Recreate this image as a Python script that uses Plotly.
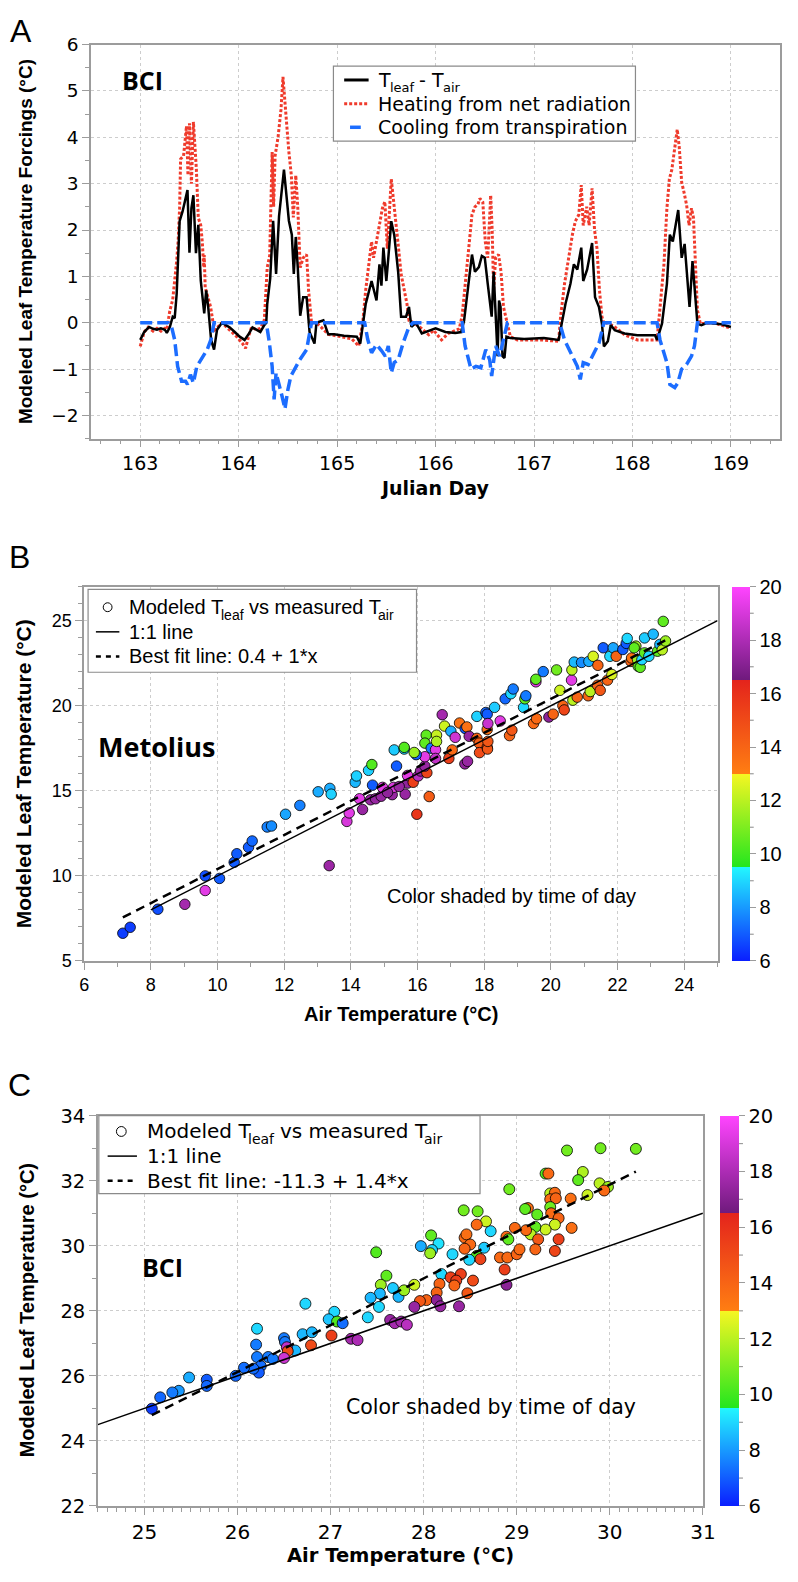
import plotly.graph_objects as go

W, H = 798, 1582
FONT = "Liberation Sans, Arial, Helvetica, sans-serif"
WIDEFONT = "DejaVu Sans, Verdana, sans-serif"
BOLDFONT = "Open Sans, Liberation Sans, sans-serif"
GRAY = "#9c9c9c"
RED = "#ef3b2c"
BLUE = "#1c6dff"

# ---------------- Panel A : leaf temperature forcings (BCI) ----------------
black_day = [163.00, 163.04, 163.09, 163.13, 163.17, 163.21, 163.25, 163.27, 163.30, 163.33,
             163.35, 163.37, 163.40, 163.43, 163.48, 163.50, 163.52, 163.54, 163.566, 163.59,
             163.615, 163.63, 163.65, 163.67, 163.69, 163.72, 163.75, 163.78, 163.83, 163.87,
             163.91, 163.96, 164.01, 164.06, 164.10, 164.14, 164.18, 164.22, 164.26, 164.28,
             164.29, 164.32, 164.35, 164.38, 164.41, 164.46, 164.51, 164.54, 164.56, 164.58,
             164.60, 164.625, 164.655, 164.69, 164.72, 164.77, 164.79, 164.86, 164.91, 164.97,
             165.07, 165.20, 165.235, 165.29, 165.35, 165.40, 165.43, 165.45, 165.47, 165.50,
             165.52, 165.55, 165.58, 165.62, 165.65, 165.70, 165.73, 165.755, 165.80, 165.86,
             166.00, 166.10, 166.20, 166.26, 166.29, 166.33, 166.37, 166.40, 166.44, 166.47,
             166.50, 166.53, 166.56, 166.57, 166.59, 166.63, 166.645, 166.66, 166.68, 166.70,
             166.72, 166.76, 166.90, 167.10, 167.25, 167.27, 167.32, 167.37, 167.405, 167.44,
             167.48, 167.50, 167.54, 167.59, 167.62, 167.66, 167.69, 167.71, 167.75, 167.78,
             167.82, 167.92, 168.05, 168.23, 168.25, 168.30, 168.35, 168.38, 168.41, 168.465,
             168.50, 168.53, 168.58, 168.61, 168.63, 168.66, 168.70, 168.76, 168.90, 169.00]
black_val = [-0.37, -0.20, -0.09, -0.13, -0.15, -0.12, -0.15, -0.22, -0.10, 0.13,
             0.10, 0.62, 2.19, 2.40, 2.86, 1.51, 2.47, 2.75, 1.50, 2.11,
             0.91, 0.60, 0.20, 0.70, 0.35, -0.37, -0.58, -0.15, 0.00, -0.05,
             -0.10, -0.20, -0.30, -0.37, -0.25, -0.10, -0.15, -0.20, -0.05, 0.00,
             0.40, 0.95, 2.20, 1.05, 2.30, 3.30, 2.20, 1.90, 1.05, 1.85,
             1.20, 0.15, 0.55, 0.55, -0.20, -0.45, 0.00, 0.05, -0.25, -0.25,
             -0.28, -0.30, -0.45, 0.40, 0.90, 0.48, 1.26, 0.80, 1.62, 0.90,
             1.40, 2.19, 1.90, 1.10, 0.13, 0.13, 0.34, -0.09, 0.00, -0.23,
             -0.12, -0.20, -0.22, -0.20, 0.05, 0.70, 1.47, 1.10, 1.20, 1.44,
             1.40, 0.84, 0.34, 0.13, 1.10, -0.72, 0.48, 0.34, -0.72, -0.76,
             -0.30, -0.33, -0.35, -0.33, -0.37, -0.16, 0.41, 0.84, 1.26, 1.15,
             1.62, 0.90, 1.15, 1.72, 0.55, 0.34, -0.02, -0.51, -0.40, -0.05,
             -0.16, -0.23, -0.27, -0.27, -0.37, -0.02, 0.84, 1.90, 1.75, 2.43,
             1.40, 1.70, 0.34, 1.33, 0.70, -0.02, -0.05, 0.00, -0.03, -0.09]

red_day = [163.00, 163.04, 163.08, 163.13, 163.17, 163.21, 163.25, 163.27, 163.30, 163.33,
           163.37, 163.385, 163.40, 163.41, 163.44, 163.47, 163.485, 163.50, 163.52, 163.54,
           163.57, 163.59, 163.615, 163.63, 163.645, 163.65, 163.66, 163.715, 163.74, 163.76,
           163.83, 163.91, 163.98, 164.04, 164.07, 164.10, 164.13, 164.18, 164.22, 164.26,
           164.29, 164.315, 164.34, 164.355, 164.37, 164.40, 164.43, 164.45, 164.47, 164.49,
           164.51, 164.535, 164.555, 164.58, 164.60, 164.625, 164.655, 164.69, 164.71, 164.74,
           164.79, 164.84, 164.91, 165.04, 165.15, 165.22, 165.26, 165.29, 165.32, 165.35,
           165.37, 165.40, 165.43, 165.46, 165.485, 165.51, 165.55, 165.565, 165.59, 165.62,
           165.65, 165.68, 165.71, 165.73, 165.78, 165.86, 165.93, 165.98, 166.06, 166.13,
           166.24, 166.27, 166.31, 166.35, 166.37, 166.40, 166.43, 166.45, 166.48, 166.505,
           166.53, 166.56, 166.575, 166.59, 166.61, 166.64, 166.665, 166.69, 166.73, 166.76,
           166.83, 167.07, 167.25, 167.27, 167.31, 167.35, 167.39, 167.42, 167.455, 167.48,
           167.50, 167.535, 167.56, 167.59, 167.615, 167.64, 167.665, 167.69, 167.71, 167.75,
           167.82, 167.92, 168.05, 168.25, 168.28, 168.32, 168.35, 168.375, 168.40, 168.43,
           168.455, 168.475, 168.50, 168.525, 168.55, 168.575, 168.60, 168.62, 168.64, 168.66,
           168.69, 168.83, 169.00]
red_val = [-0.51, -0.20, -0.10, -0.18, -0.12, -0.18, -0.12, -0.15, 0.25, 0.50,
           1.33, 1.75, 2.47, 3.53, 3.60, 4.24, 3.18, 4.30, 3.00, 4.33,
           3.32, 2.26, 2.10, 1.75, 1.20, 1.46, 0.76, 0.34, 0.00, -0.15,
           0.00, -0.15, -0.30, -0.45, -0.55, -0.30, -0.10, -0.15, -0.12, 0.05,
           1.19, 1.45, 3.68, 2.50, 3.60, 4.00, 4.60, 5.30, 4.75, 4.03,
           3.68, 3.18, 2.27, 3.18, 2.50, 1.19, 1.40, 1.47, 0.70, 0.00,
           0.00, -0.10, -0.25, -0.30, -0.35, -0.50, 0.00, 0.70, 1.19, 1.75,
           1.40, 1.75, 2.19, 2.47, 2.61, 1.60, 3.10, 2.80, 2.40, 1.69,
           1.05, 0.70, 0.40, 0.05, 0.00, -0.13, -0.26, -0.16, -0.37, -0.23,
           -0.13, 0.15, 1.05, 1.83, 2.33, 2.50, 2.55, 2.68, 2.60, 1.75,
           1.40, 2.75, 2.00, 0.70, 1.40, 1.47, 1.10, 0.34, -0.02, -0.30,
           -0.37, -0.37, -0.40, 0.13, 0.84, 1.40, 1.90, 2.19, 2.33, 2.97,
           2.10, 2.50, 2.10, 2.90, 2.00, 1.60, 0.70, 0.13, -0.02, 0.00,
           -0.09, -0.26, -0.37, -0.37, 0.27, 1.26, 2.47, 3.10, 3.30, 3.74,
           4.17, 3.80, 3.03, 2.80, 2.54, 2.10, 2.47, 2.26, 1.10, 0.27,
           -0.02, 0.00, -0.12]

blue_day = [163.00, 163.285, 163.32, 163.35, 163.38, 163.42, 163.46, 163.48, 163.51, 163.54,
            163.575, 163.615, 163.68, 163.72, 163.75, 164.28, 164.31, 164.34, 164.36, 164.38,
            164.41, 164.44, 164.47, 164.50, 164.53, 164.58, 164.62, 164.69, 164.74, 165.28,
            165.31, 165.35, 165.40, 165.45, 165.49, 165.52, 165.55, 165.58, 165.62, 165.67,
            165.73, 165.77, 166.27, 166.30, 166.36, 166.41, 166.46, 166.51, 166.55, 166.57,
            166.61, 166.65, 166.68, 166.73, 167.26, 167.31, 167.39, 167.44, 167.47, 167.50,
            167.55, 167.61, 167.66, 167.71, 168.25, 168.28, 168.35, 168.38, 168.43, 168.46,
            168.50, 168.55, 168.60, 168.63, 168.66, 169.00]
blue_val = [0.00, 0.00, -0.10, -0.37, -0.94, -1.26, -1.26, -1.33, -1.12, -1.30,
            -0.94, -0.80, -0.58, -0.35, 0.00, 0.00, -0.40, -0.94, -1.65, -1.08,
            -1.37, -1.58, -1.86, -1.44, -1.15, -0.94, -0.80, -0.58, 0.00, 0.00,
            -0.35, -0.65, -0.47, -0.60, -0.72, -0.50, -1.08, -0.86, -0.80, -0.44,
            -0.09, 0.00, 0.00, -0.50, -1.00, -0.94, -0.97, -0.58, -0.80, -1.15,
            -0.50, -0.72, -0.44, 0.00, 0.00, -0.37, -0.72, -0.94, -1.22, -0.86,
            -0.90, -0.65, -0.44, 0.00, 0.00, -0.37, -0.86, -1.33, -1.40, -1.30,
            -1.00, -0.90, -0.72, -0.50, 0.00, 0.00]

# ---------------- Panel B : Metolius ----------------
met_air = [7.16, 7.38, 8.21, 9.02, 9.63, 9.63, 10.06, 10.50, 10.58, 10.93,
           11.04, 11.49, 11.62, 12.04, 12.47, 13.02, 13.37, 13.41, 13.35, 13.88,
           13.95, 14.26, 14.35, 14.59, 14.65, 14.74, 14.91, 14.95, 15.24, 15.28,
           15.37, 15.30, 15.60, 15.60, 15.63, 15.70, 15.70, 15.87, 15.98, 16.35,
           16.02, 16.09, 16.28, 16.22, 16.22, 15.96, 15.90, 14.13, 14.17, 14.53,
           14.63, 16.26, 16.22, 16.41, 16.54, 16.54, 16.57, 16.57, 16.74, 16.81,
           16.94, 17.04, 17.00, 17.13, 17.26, 17.43, 17.48, 17.55, 17.42, 17.50,
           17.78, 17.78, 17.85, 17.86, 18.05, 18.09, 18.09, 18.09, 18.10, 18.11,
           18.11, 18.31, 18.48, 18.63, 18.76, 18.80, 18.83, 18.87, 19.18, 19.22,
           19.25, 19.48, 19.55, 19.55, 19.57, 19.77, 19.94, 20.07, 20.17, 20.27,
           20.36, 20.40, 20.62, 20.63, 20.66, 20.70, 20.79, 20.92, 21.12, 21.14,
           21.18, 21.27, 21.40, 21.41, 21.48, 21.57, 21.70, 21.77, 21.83, 21.87,
           21.96, 22.16, 22.26, 22.29, 22.40, 22.42, 22.55, 22.50, 22.60, 22.62,
           22.68, 22.73, 22.81, 22.81, 22.94, 23.07, 23.20, 23.27, 23.34, 23.44,
           23.37, 15.45, 15.10]
met_leaf = [6.63, 6.98, 8.04, 8.33, 9.14, 10.00, 9.85, 10.80, 11.30, 11.68,
            12.05, 12.87, 12.93, 13.62, 14.14, 14.94, 15.14, 14.80, 10.60, 13.20,
            13.70, 14.53, 13.90, 14.47, 15.33, 14.53, 14.68, 15.20, 14.77, 15.20,
            16.45, 17.40, 17.45, 17.55, 14.80, 15.45, 15.90, 15.50, 13.62, 14.66,
            15.87, 16.16, 16.06, 16.45, 17.00, 17.12, 17.25, 15.50, 15.87, 16.20,
            16.54, 18.27, 17.80, 17.50, 17.41, 16.90, 18.27, 17.90, 19.47, 18.80,
            16.90, 17.40, 18.50, 18.14, 18.98, 18.66, 18.75, 18.20, 16.58, 16.73,
            19.37, 18.08, 17.80, 17.24, 19.60, 19.50, 18.60, 17.56, 17.45, 17.90,
            18.95, 19.90, 19.10, 20.40, 18.24, 20.70, 18.56, 20.98, 19.90, 20.40,
            20.58, 18.95, 21.40, 21.55, 19.23, 22.00, 19.33, 19.50, 22.10, 20.90,
            20.00, 19.75, 21.50, 22.10, 20.32, 22.56, 20.50, 22.54, 20.58, 22.60,
            20.83, 22.90, 21.20, 22.37, 20.90, 23.40, 21.50, 22.90, 21.83, 23.40,
            22.90, 23.30, 23.66, 23.95, 22.60, 22.80, 23.50, 23.40, 22.70, 22.31,
            22.25, 22.70, 23.10, 23.98, 22.90, 24.20, 23.20, 23.60, 23.28, 23.80,
            24.95, 15.25, 14.90]
met_hour = [6.5, 6.5, 6.8, 17.8, 19.3, 6.8, 7.0, 7.0, 7.0, 7.0,
            7.2, 7.6, 7.8, 8.2, 7.6, 8.3, 8.3, 8.9, 17.6, 19.0,
            19.3, 19.3, 17.5, 17.5, 7.0, 17.5, 17.5, 19.3, 17.5, 19.0,
            7.0, 8.8, 9.0, 10.3, 17.5, 17.3, 19.3, 15.5, 15.8, 14.3,
            18.3, 17.5, 15.3, 17.5, 19.3, 7.0, 11.5, 8.5, 8.9, 8.9,
            10.3, 10.5, 10.5, 7.5, 19.3, 18.5, 12.2, 11.8, 17.8, 12.3,
            15.5, 13.8, 8.3, 18.8, 13.5, 7.0, 13.5, 17.5, 17.3, 17.5,
            8.9, 14.0, 14.3, 15.0, 7.2, 7.0, 13.5, 15.3, 14.5, 14.5,
            18.7, 8.8, 19.3, 7.2, 14.0, 9.0, 14.5, 7.5, 9.0, 10.5,
            7.5, 13.8, 19.3, 10.5, 13.8, 7.5, 17.2, 14.0, 10.8, 12.3,
            14.0, 15.2, 19.3, 12.0, 12.0, 8.5, 14.0, 7.8, 14.0, 8.3,
            12.0, 12.5, 14.0, 14.0, 14.5, 7.0, 14.0, 9.0, 12.5, 8.2,
            14.0, 7.0, 7.0, 9.0, 14.0, 13.5, 11.5, 10.5, 11.5, 10.5,
            10.5, 9.0, 10.5, 8.8, 9.0, 8.5, 10.5, 8.5, 12.0, 11.5,
            10.5, 17.5, 17.3]
met_fit_intercept = 0.4
met_fit_slope = 1.0
met_one_to_one = [8, 25]

# ---------------- Panel C : BCI ----------------
bci_air = [29.54, 29.90, 30.28, 29.31, 29.34, 29.71, 29.66, 29.89, 29.98, 29.94,
           29.76, 29.58, 28.92, 29.36, 29.41, 29.36, 29.42, 29.12, 29.09, 29.22,
           29.36, 29.37, 29.45, 29.41, 29.31, 29.20, 29.15, 29.10, 29.59, 29.45,
           29.23, 29.20, 29.41, 28.98, 28.89, 28.91, 28.72, 28.67, 28.58, 28.43,
           28.57, 28.44, 28.46, 28.50, 28.44, 28.65, 28.57, 28.61, 28.49, 28.82,
           28.90, 29.00, 29.03, 28.87, 28.89, 28.08, 27.97, 28.16, 28.09, 28.07,
           28.31, 27.49, 27.60, 27.54, 27.67, 27.53, 27.43, 27.52, 27.40, 27.04,
           26.98, 27.07, 27.13, 27.73, 27.79, 27.90, 28.19, 28.29, 28.40, 28.35,
           28.53, 28.17, 28.33, 28.14, 28.47, 28.03, 27.96, 28.14, 28.18, 28.38,
           27.90, 27.64, 27.69, 27.76, 27.82, 27.01, 26.79, 27.22, 27.29, 26.73,
           26.70, 26.80, 26.62, 26.50, 26.51, 26.53, 26.54, 26.50, 26.21, 26.20,
           26.21, 26.33, 26.38, 26.25, 26.23, 26.17, 26.07, 25.98, 25.67, 25.67,
           25.48, 25.37, 25.30, 25.17, 25.08]
bci_leaf = [32.93, 33.00, 32.98, 32.22, 32.22, 32.27, 32.02, 31.92, 31.81, 31.70,
            31.56, 31.45, 31.74, 31.61, 31.63, 31.43, 31.46, 31.16, 31.13, 30.96,
            31.19, 31.00, 30.85, 30.65, 30.50, 30.58, 30.35, 30.48, 30.55, 30.20,
            30.20, 29.89, 29.84, 30.55, 30.28, 30.20, 30.45, 30.75, 31.06, 31.09,
            30.65, 30.25, 30.35, 30.04, 29.91, 29.94, 29.69, 29.59, 29.57, 29.64,
            29.64, 29.74, 29.89, 29.27, 28.80, 30.32, 29.99, 30.07, 29.87, 29.77,
            29.74, 29.80, 29.08, 28.80, 28.70, 28.53, 28.40, 28.12, 27.80, 27.97,
            27.74, 27.67, 27.62, 28.43, 28.63, 28.80, 29.13, 29.03, 29.13, 28.93,
            28.93, 28.83, 28.78, 28.56, 28.54, 28.33, 28.30, 28.33, 28.14, 28.14,
            28.12, 27.72, 27.62, 27.67, 27.57, 27.24, 26.94, 27.14, 27.10, 28.22,
            27.28, 27.34, 26.78, 27.16, 27.04, 26.88, 26.76, 26.55, 27.45, 26.96,
            26.58, 26.58, 26.52, 26.30, 26.10, 26.22, 26.25, 26.00, 25.88, 25.69,
            25.95, 25.54, 25.49, 25.34, 24.99]
bci_hour = [10.8, 10.8, 10.8, 10.3, 13.8, 11.8, 10.5, 12.0, 11.5, 13.8,
            12.3, 13.6, 10.8, 12.0, 13.8, 13.8, 14.0, 13.6, 10.5, 10.5,
            10.8, 13.8, 14.0, 12.3, 12.3, 10.5, 12.0, 13.8, 13.6, 15.5,
            14.5, 14.0, 15.2, 13.8, 13.8, 10.5, 9.0, 12.3, 10.8, 10.8,
            13.8, 13.8, 13.6, 13.8, 14.0, 8.8, 10.3, 15.3, 9.0, 13.8,
            13.8, 14.0, 13.8, 15.5, 17.2, 10.5, 8.3, 9.2, 9.0, 11.5,
            9.0, 10.3, 10.5, 11.5, 8.8, 8.5, 8.5, 9.0, 9.0, 9.0,
            8.7, 10.3, 7.3, 8.5, 11.5, 12.3, 9.0, 15.5, 15.5, 15.5,
            15.0, 14.0, 14.0, 14.0, 14.5, 14.0, 14.5, 17.2, 17.5, 17.5,
            17.5, 17.5, 17.8, 17.8, 18.3, 15.5, 15.0, 17.8, 18.0, 9.0,
            8.5, 8.5, 8.5, 7.5, 7.5, 18.5, 15.0, 18.8, 9.0, 7.5,
            7.5, 7.5, 7.5, 7.3, 7.0, 7.3, 7.3, 7.2, 7.0, 7.2,
            8.3, 8.0, 7.5, 7.2, 6.5]
bci_fit_intercept = -11.35
bci_fit_slope = 1.441
bci_one_to_one = [24.5, 31]

# colour bar (time of day)
hour_min, hour_max = 6, 20
hour_major = list(range(6, 21, 2))
hour_minor = list(range(7, 20, 2))

COLORSCALE = [[0.0, "#0a1eff"], [0.25, "#22f6ff"], [0.25, "#22e61e"], [0.5, "#f6f622"],
              [0.5, "#ff7e12"], [0.75, "#e4241c"], [0.75, "#6e1a7c"], [1.0, "#ff44ff"]]

# advance widths (per 1000 em) used to lay out legend text with subscripts
ADV_ARIAL = {" ": 278, "-": 333, "M": 833, "T": 611, "a": 556, "d": 556, "e": 556, "f": 278,
             "i": 222, "l": 222, "m": 833, "o": 556, "r": 333, "s": 500, "u": 556, "v": 500}
ADV_DEJAVU = {" ": 318, "-": 361, "M": 863, "T": 611, "a": 613, "d": 635, "e": 615, "f": 352,
              "i": 278, "l": 278, "m": 974, "o": 612, "r": 411, "s": 521, "u": 634, "v": 592}


def X(px):
    return px / W


def Y(py):
    return 1 - py / H


fig = go.Figure()

# ---- Panel A traces
fig.add_trace(go.Scatter(x=red_day, y=red_val, mode="lines", xaxis="x", yaxis="y",
                         line=dict(color=RED, width=3, dash="3px,2px")))
fig.add_trace(go.Scatter(x=black_day, y=black_val, mode="lines", xaxis="x", yaxis="y",
                         line=dict(color="black", width=2.5)))
fig.add_trace(go.Scatter(x=blue_day, y=blue_val, mode="lines", xaxis="x", yaxis="y",
                         line=dict(color=BLUE, width=3.5, dash="12px,5px")))

# ---- Panel B traces
fig.add_trace(go.Scatter(x=met_air, y=met_leaf, mode="markers", xaxis="x2", yaxis="y2",
                         marker=dict(size=10.5, color=met_hour, coloraxis="coloraxis",
                                     line=dict(color="black", width=0.8))))
fig.add_trace(go.Scatter(x=met_one_to_one, y=met_one_to_one, mode="lines", xaxis="x2", yaxis="y2",
                         line=dict(color="black", width=1.5)))
mfx = [min(met_air), max(met_air)]
fig.add_trace(go.Scatter(x=mfx, y=[met_fit_intercept + met_fit_slope * v for v in mfx],
                         mode="lines", xaxis="x2", yaxis="y2",
                         line=dict(color="black", width=2.5, dash="9px,6px")))

# ---- Panel C traces
fig.add_trace(go.Scatter(x=bci_air, y=bci_leaf, mode="markers", xaxis="x3", yaxis="y3",
                         marker=dict(size=11, color=bci_hour, coloraxis="coloraxis2",
                                     line=dict(color="black", width=0.8))))
fig.add_trace(go.Scatter(x=bci_one_to_one, y=bci_one_to_one, mode="lines", xaxis="x3", yaxis="y3",
                         line=dict(color="black", width=1.5)))
bfx = [min(bci_air), max(bci_air)]
fig.add_trace(go.Scatter(x=bfx, y=[bci_fit_intercept + bci_fit_slope * v for v in bfx],
                         mode="lines", xaxis="x3", yaxis="y3",
                         line=dict(color="black", width=2.5, dash="9px,6px")))


def axis(domain, rng, dtick, minor_dtick, fsize, anchor, family=FONT):
    return dict(domain=domain, range=rng, dtick=dtick, anchor=anchor,
                showline=True, linecolor=GRAY, linewidth=1.5, mirror=True,
                ticks="outside", ticklen=7, tickwidth=1.2, tickcolor=GRAY,
                showgrid=True, gridcolor="#cdcdcd", griddash="dot", gridwidth=1,
                zeroline=False, tickfont=dict(size=fsize, color="black", family=family),
                minor=dict(dtick=minor_dtick, ticks="outside", ticklen=4, tickcolor=GRAY,
                           tickwidth=1, showgrid=False))


# colour-bar geometry (pixels)
CB_B = dict(x0=744, x1=762, top=584, bottom=964, fsize=20, family=FONT)
CB_C = dict(x0=732, x1=751, top=1121, bottom=1517, fsize=19.5, family=WIDEFONT)


def colorbar(cb):
    return dict(x=X(cb["x0"]), xanchor="left", y=Y((cb["top"] + cb["bottom"]) / 2), yanchor="middle",
                len=(cb["bottom"] - cb["top"]) / H, lenmode="fraction", thickness=cb["x1"] - cb["x0"],
                outlinewidth=0, xpad=0, ypad=0, ticks="outside", ticklen=6, tickwidth=1.2,
                tickcolor=GRAY, tickvals=hour_major,
                tickfont=dict(size=cb["fsize"], family=cb["family"], color="black"))


layout = dict(
    width=W, height=H, margin=dict(l=0, r=0, t=0, b=0), autosize=False,
    paper_bgcolor="white", plot_bgcolor="white", showlegend=False,
    font=dict(family=FONT, color="black"),
    xaxis=axis([X(88), X(793)], [162.5, 169.5], 1, 0.2, 19, "y", WIDEFONT),
    yaxis=axis([Y(434), Y(34)], [-2.5, 6], 1, 0.5, 18.5, "x", WIDEFONT),
    xaxis2=axis([X(81), X(729)], [6, 25], 2, 1, 18, "y2"),
    yaxis2=axis([Y(964), Y(584)], [5, 27], 5, 1, 18, "x2"),
    xaxis3=axis([X(95), X(714)], [24.5, 31], 1, 0.1, 20, "y3", WIDEFONT),
    yaxis3=axis([Y(1517), Y(1121)], [22, 34], 2, 1, 19.5, "x3", WIDEFONT),
    coloraxis=dict(colorscale=COLORSCALE, cmin=hour_min, cmax=hour_max, colorbar=colorbar(CB_B)),
    coloraxis2=dict(colorscale=COLORSCALE, cmin=hour_min, cmax=hour_max, colorbar=colorbar(CB_C)),
)
fig.update_layout(**layout)

ann = []


def text(px, py, s, size, family=FONT, xanchor="center", angle=0, bold=False, pad=1):
    ann.append(dict(x=X(px), y=Y(py), xref="paper", yref="paper", text=("<b>%s</b>" % s) if bold else s,
                    showarrow=False, xanchor=xanchor, yanchor="middle", textangle=angle,
                    borderpad=pad, borderwidth=0 if pad == 0 else 1,
                    font=dict(size=size, family=family, color="black")))


def rich(px, py, parts, size, family, adv):
    """parts: list of (string, is_subscript); subscripts are set smaller and lower."""
    x = px
    sub_size = round(size * 0.7)
    for s, is_sub in parts:
        fs = sub_size if is_sub else size
        core = s.strip(" ")
        lead = len(s) - len(s.lstrip(" "))
        x += lead * adv[" "] * size / 1000.0
        if core:
            text(x, py + (0.4 * size if is_sub else 0), core, fs, family=family, xanchor="left", pad=0)
            x += sum(adv[c] for c in core) * fs / 1000.0
        trail = len(s) - len(s.rstrip(" "))
        x += trail * adv[" "] * size / 1000.0


# panel labels
text(16, 20, "A", 32)
text(15, 554, "B", 32)
text(15, 1090, "C", 32)
# axis titles
text(440, 484, "Julian Day", 19, family=WIDEFONT, bold=True)
text(21, 234, "Modeled Leaf Temperature Forcings (°C)", 19, angle=-90, bold=True)
text(405, 1018, "Air Temperature (°C)", 20, bold=True)
text(19, 774, "Modeled Leaf Temperature (°C)", 21, angle=-90, bold=True)
text(405, 1567, "Air Temperature (°C)", 19.5, family=WIDEFONT, bold=True)
text(22, 1319, "Modeled Leaf Temperature (°C)", 20, angle=-90, bold=True)
# site names & notes
text(141, 70, "BCI", 25, family=BOLDFONT, bold=True)
text(155, 746, "Metolius", 27, family=BOLDFONT, bold=True)
text(161, 1275, "BCI", 25, family=BOLDFONT, bold=True)
text(518, 898, "Color shaded by time of day", 20)
text(497, 1417, "Color shaded by time of day", 20.5, family=WIDEFONT)

shapes = []


def box(x0, y0, x1, y1):
    shapes.append(dict(type="rect", xref="paper", yref="paper", x0=X(x0), x1=X(x1), y0=Y(y1), y1=Y(y0),
                       line=dict(color="#8a8a8a", width=1.2), fillcolor="white", layer="above"))


def seg(x0, x1, y0, y1, color, width_, dash="solid"):
    shapes.append(dict(type="line", xref="paper", yref="paper", x0=X(x0), x1=X(x1), y0=Y(y0), y1=Y(y1),
                       line=dict(color=color, width=width_, dash=dash), layer="above"))


def circ(cx, cy, r):
    shapes.append(dict(type="circle", xref="paper", yref="paper", x0=X(cx - r), x1=X(cx + r),
                       y0=Y(cy + r), y1=Y(cy - r), line=dict(color="black", width=1), layer="above"))


# minor ticks of the colour bars (odd hours)
for cb in (CB_B, CB_C):
    for hv in hour_minor:
        yy = cb["top"] + (hour_max - hv) / (hour_max - hour_min) * (cb["bottom"] - cb["top"])
        seg(cb["x1"], cb["x1"] + 4, yy, yy, GRAY, 1.2)

# legend A
box(336, 56, 645, 132)
seg(347, 372, 70, 70, "black", 3)
seg(347, 372, 94, 94, RED, 3, "3px,2px")
seg(353, 364, 118, 118, BLUE, 3.5)
rich(382, 70, [("T", False), ("leaf", True), (" - T", False), ("air", True)], 19, WIDEFONT, ADV_DEJAVU)
text(382, 94, "Heating from net radiation", 19, family=WIDEFONT, xanchor="left", pad=0)
text(382, 118, "Cooling from transpiration", 19, family=WIDEFONT, xanchor="left", pad=0)

# legend B
box(85, 587, 421, 671)
circ(105, 605, 4.5)
seg(93, 117, 630, 630, "black", 1.5)
seg(93, 117, 655, 655, "black", 2.5, "5px,5px")
rich(127, 605, [("Modeled T", False), ("leaf", True), (" vs measured T", False), ("air", True)],
     20, FONT, ADV_ARIAL)
text(127, 630, "1:1 line", 20, xanchor="left", pad=0)
text(127, 655, "Best fit line: 0.4 + 1*x", 20, xanchor="left", pad=0)

# legend C
box(96, 1121, 486, 1200)
circ(119, 1137, 5)
seg(105, 135, 1162, 1162, "black", 1.5)
seg(105, 135, 1187, 1187, "black", 2.5, "5px,5px")
rich(145, 1137, [("Modeled T", False), ("leaf", True), (" vs measured T", False), ("air", True)],
     20, WIDEFONT, ADV_DEJAVU)
text(145, 1162, "1:1 line", 20, family=WIDEFONT, xanchor="left", pad=0)
text(145, 1187, "Best fit line: -11.3 + 1.4*x", 20, family=WIDEFONT, xanchor="left", pad=0)

fig.update_layout(annotations=ann, shapes=shapes)
fig.write_html("out.html", config={"displayModeBar": False},
               post_script="document.body.style.margin='0';document.body.style.overflow='hidden';")
